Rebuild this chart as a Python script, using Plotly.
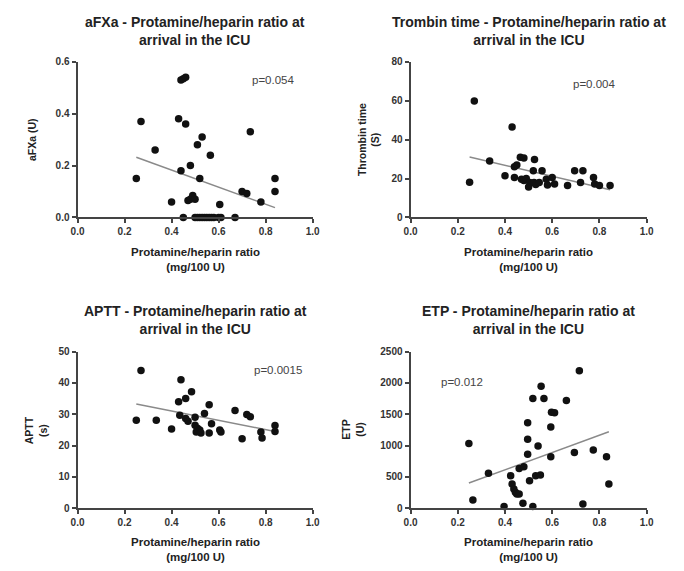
import plotly.graph_objects as go

# ---------------- data ----------------
afxa_x = [0.25, 0.27, 0.33, 0.40, 0.43, 0.44, 0.44, 0.45, 0.46, 0.45, 0.46, 0.47, 0.48, 0.48,
          0.49, 0.50, 0.51, 0.52, 0.52, 0.53, 0.50, 0.51, 0.53, 0.54, 0.55, 0.56, 0.57, 0.58,
          0.60, 0.565, 0.605, 0.61, 0.67, 0.70, 0.72, 0.735, 0.78, 0.84, 0.84]
afxa_y = [0.15, 0.37, 0.26, 0.06, 0.38, 0.18, 0.53, 0.535, 0.54, 0.00, 0.36, 0.065, 0.20, 0.07,
          0.085, 0.07, 0.28, 0.00, 0.15, 0.31, 0.00, 0.00, 0.00, 0.00, 0.00, 0.00, 0.00, 0.00,
          0.00, 0.24, 0.05, 0.00, 0.00, 0.10, 0.092, 0.33, 0.06, 0.15, 0.10]
afxa_fit_x = [0.25, 0.84]
afxa_fit_y = [0.232, 0.038]

tt_x = [0.25, 0.27, 0.335, 0.40, 0.43, 0.44, 0.45, 0.44, 0.465, 0.48, 0.47, 0.48, 0.49, 0.505,
        0.50, 0.525, 0.52, 0.523, 0.53, 0.545, 0.557, 0.575, 0.58, 0.60, 0.61, 0.665, 0.695,
        0.73, 0.72, 0.775, 0.78, 0.80, 0.845]
tt_y = [18.1, 59.9, 29.0, 21.4, 46.5, 26.0, 27.0, 20.5, 31.0, 30.6, 19.7, 19.0, 20.0, 18.0,
        15.6, 29.8, 24.0, 18.0, 17.0, 18.0, 24.0, 19.7, 16.7, 20.6, 17.2, 16.4, 24.0,
        24.0, 18.0, 20.6, 17.2, 16.4, 16.4]
tt_fit_x = [0.25, 0.845]
tt_fit_y = [31.1, 14.2]

aptt_x = [0.25, 0.27, 0.335, 0.40, 0.43, 0.44, 0.435, 0.46, 0.485, 0.46, 0.47, 0.50, 0.50,
          0.51, 0.505, 0.52, 0.525, 0.54, 0.56, 0.56, 0.57, 0.605, 0.61, 0.67, 0.70, 0.72,
          0.735, 0.78, 0.785, 0.84, 0.84]
aptt_y = [28.1, 44.0, 28.1, 25.3, 34.0, 41.0, 29.7, 35.0, 37.2, 28.6, 27.8, 29.0, 26.5,
          25.5, 24.3, 25.0, 24.0, 30.2, 33.0, 24.0, 27.0, 25.0, 24.3, 31.2, 22.2, 29.9,
          29.2, 24.3, 22.4, 26.4, 24.5]
aptt_fit_x = [0.25, 0.84]
aptt_fit_y = [33.3, 24.5]

etp_x = [0.247, 0.264, 0.33, 0.396, 0.424, 0.43, 0.4375, 0.444, 0.45, 0.46, 0.46, 0.48, 0.476,
         0.496, 0.496, 0.496, 0.504, 0.518, 0.518, 0.54, 0.553, 0.53, 0.55, 0.565, 0.594,
         0.597, 0.61, 0.594, 0.66, 0.694, 0.715, 0.73, 0.774, 0.83, 0.84]
etp_y = [1031, 132, 560, 26, 518, 386, 307, 254, 227, 227, 634, 660, 79,
         1364, 1100, 862, 439, 26, 1750, 994, 1945, 518, 529, 1750, 1295,
         1533, 1522, 820, 1718, 888, 2193, 69, 930, 820, 386]
etp_fit_x = [0.247, 0.84]
etp_fit_y = [402, 1221]

x_ticks = [0.0, 0.2, 0.4, 0.6, 0.8, 1.0]
x_ticklabels = ["0.0", "0.2", "0.4", "0.6", "0.8", "1.0"]

titles = ["aFXa - Protamine/heparin ratio at<br>arrival in the ICU",
          "Trombin time - Protamine/heparin ratio at<br>arrival in the ICU",
          "APTT - Protamine/heparin ratio at<br>arrival in the ICU",
          "ETP - Protamine/heparin ratio at<br>arrival in the ICU"]
y_titles = ["aFXa (U)", "Thrombin time<br>(S)", "APTT<br>(s)", "ETP<br>(U)"]
x_title = "Protamine/heparin ratio<br>(mg/100 U)"
p_texts = ["p=0.054", "p=0.004", "p=0.0015", "p=0.012"]

y_ranges = [[0, 0.6], [0, 80], [0, 50], [0, 2500]]
y_tickvals = [[0.0, 0.2, 0.4, 0.6], [0, 20, 40, 60, 80], [0, 10, 20, 30, 40, 50],
              [0, 500, 1000, 1500, 2000, 2500]]
y_ticktext = [["0.0", "0.2", "0.4", "0.6"], ["0", "20", "40", "60", "80"],
              ["0", "10", "20", "30", "40", "50"], ["0", "500", "1000", "1500", "2000", "2500"]]

# ---------------- layout geometry (page pixels) ----------------
W, H = 684, 571
px_x = [(72, 312), (412, 653), (72, 312), (412, 653)]
px_y = [(57, 216), (57, 216), (353, 513), (353, 513)]
title_cy = [26, 26, 321, 321]
xtitle_cy = [259, 259, 555, 555]
ytitle_cx = [25, 369, 30, 353]
p_pos = [(272, 76), (599, 80), (277, 372), (465, 384)]


def fx(p):
    return p / W


def fy(p):
    return 1 - p / H


fig = go.Figure()
datasets = [(afxa_x, afxa_y, afxa_fit_x, afxa_fit_y),
            (tt_x, tt_y, tt_fit_x, tt_fit_y),
            (aptt_x, aptt_y, aptt_fit_x, aptt_fit_y),
            (etp_x, etp_y, etp_fit_x, etp_fit_y)]

FONT = "Liberation Sans, Arial, sans-serif"
AX_COL = "#444444"
annotations = []
for i, (xs, ys, fxs, fys) in enumerate(datasets):
    n = "" if i == 0 else str(i + 1)
    xa, ya = "x" + n, "y" + n
    fig.add_trace(go.Scatter(x=fxs, y=fys, mode="lines", xaxis=xa, yaxis=ya,
                             line=dict(color="#8a8a8a", width=1.5), showlegend=False,
                             hoverinfo="skip"))
    fig.add_trace(go.Scatter(x=xs, y=ys, mode="markers", xaxis=xa, yaxis=ya,
                             marker=dict(color="#111111", size=7.5), cliponaxis=False,
                             showlegend=False))
    x0, x1 = px_x[i]
    y0, y1 = px_y[i]
    axis_common = dict(showline=True, linecolor=AX_COL, linewidth=2, ticks="outside",
                       ticklen=4, tickwidth=2, tickcolor=AX_COL, showgrid=False,
                       zeroline=False, tickfont=dict(family=FONT, size=10, color="#333333"))
    fig.update_layout(**{
        ("xaxis" + n): dict(domain=[fx(x0), fx(x1)], range=[0, 1.0], anchor=ya,
                            tickvals=x_ticks, ticktext=["<b>%s</b>" % t for t in x_ticklabels],
                            **axis_common),
        ("yaxis" + n): dict(domain=[fy(y1), fy(y0)], range=y_ranges[i], anchor=xa,
                            tickvals=y_tickvals[i],
                            ticktext=["<b>%s</b>" % t for t in y_ticktext[i]],
                            **axis_common),
    })
    cx = (x0 + x1) / 2
    annotations.append(dict(text="<b>%s</b>" % titles[i], x=fx(cx), y=fy(title_cy[i]),
                            xref="paper", yref="paper", showarrow=False, xanchor="center",
                            yanchor="middle", font=dict(family=FONT, size=14, color="#222222")))
    annotations.append(dict(text="<b>%s</b>" % x_title, x=fx(cx), y=fy(xtitle_cy[i]),
                            xref="paper", yref="paper", showarrow=False, xanchor="center",
                            yanchor="middle", font=dict(family=FONT, size=11.5, color="#222222")))
    annotations.append(dict(text="<b>%s</b>" % y_titles[i], x=fx(ytitle_cx[i]),
                            y=fy((y0 + y1) / 2), xref="paper", yref="paper", showarrow=False,
                            textangle=-90, xanchor="center", yanchor="middle",
                            font=dict(family=FONT, size=10.5, color="#222222")))
    annotations.append(dict(text=p_texts[i], x=fx(p_pos[i][0]), y=fy(p_pos[i][1]),
                            xref="paper", yref="paper", showarrow=False, xanchor="center",
                            yanchor="middle", font=dict(family=FONT, size=11.5, color="#444444")))

fig.update_layout(width=W, height=H, margin=dict(l=0, r=0, t=0, b=0),
                  paper_bgcolor="white", plot_bgcolor="white", annotations=annotations)

fig.write_html("out.html", config={"displayModeBar": False},
               post_script="document.body.style.margin='0';document.body.style.overflow='hidden';")
